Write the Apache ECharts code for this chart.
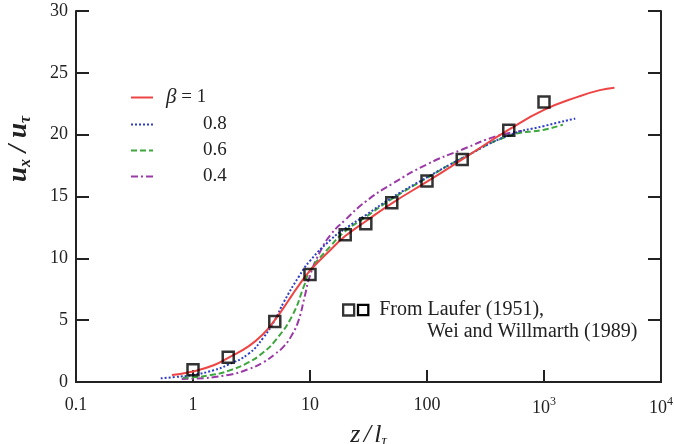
<!DOCTYPE html>
<html>
<head>
<meta charset="utf-8">
<script src="https://cdn.jsdelivr.net/npm/echarts/dist/echarts.min.js"></script>
<style>
    html, body { margin: 0; padding: 0; background: #fff; }
    #chart { width: 674px; height: 444px; }
</style>
</head>
<body>
<div id="chart"></div>
<script>
// 측정값 (Laufer 1951, Wei and Willmarth 1989)
var dataZ = [1, 2, 5, 10, 20, 30, 50, 100, 200, 500, 1000];
var dataU = [1.0, 2.0, 4.9, 8.7, 11.9, 12.8, 14.5, 16.25, 18.0, 20.35, 22.65];

// beta = 1
var b10Z = [0.66, 1, 1.5, 2, 3, 4, 5, 6, 7, 8, 10, 15, 20, 30, 50, 100, 200, 500, 1000, 2000, 3000, 4000];
var b10U = [0.57, 0.85, 1.35, 1.95, 2.9, 3.9, 5.0, 6.05, 7.0, 7.8, 9.0, 10.7, 11.8, 13.0, 14.45, 16.2, 18.0, 20.4, 22.0, 23.1, 23.6, 23.8];

// beta = 0.8
var b08Z = [0.53, 0.7, 1, 1.5, 2, 3, 4, 5, 6, 8, 10, 15, 20, 30, 50, 100, 200, 500, 1000, 1850];
var b08U = [0.3, 0.4, 0.57, 0.95, 1.4, 2.3, 3.6, 5.0, 6.5, 8.5, 9.8, 11.5, 12.4, 13.5, 14.9, 16.55, 18.1, 19.95, 20.7, 21.3];

// beta = 0.6
var b06Z = [0.82, 1, 1.5, 2, 3, 4, 5, 7, 9, 10, 15, 20, 30, 50, 100, 200, 500, 1000, 1450];
var b06U = [0.35, 0.38, 0.6, 0.9, 1.6, 2.4, 3.3, 5.3, 7.9, 9.0, 11.0, 12.2, 13.35, 14.8, 16.5, 18.1, 19.9, 20.4, 20.8];

// beta = 0.4
var b04Z = [0.8, 1, 2, 3, 4, 5, 6, 7, 8, 9, 10, 12, 15, 20, 30, 50, 100, 200, 400, 650];
var b04U = [0.25, 0.27, 0.57, 1.05, 1.6, 2.25, 2.9, 3.8, 5.0, 6.9, 8.6, 10.4, 11.9, 13.1, 14.6, 16.0, 17.6, 18.8, 19.9, 20.3];

// 축 눈금 라벨
var xTickLabels = ['0.1', '1', '10', '100', '10^3', '10^4'];
var yTicks = [0, 5, 10, 15, 20, 25, 30];

var SERIF = 'Liberation Serif';
var INK = '#222';

function pairs(xs, ys) {
    return xs.map(function(x, i) { return [x, ys[i]]; });
}

var chart = echarts.init(document.getElementById('chart'));

var axisLine = { lineStyle: { color: INK, width: 2 } };
var tickStyle = { color: INK, width: 2 };
var NOFILL = 'rgba(255,255,255,0)';

// 곡선 공통 설정
function curve(name, xs, ys, color, dash, z) {
    return {
        name: name,
        type: 'line',
        smooth: 0.5,
        symbol: 'none',
        data: pairs(xs, ys),
        lineStyle: { color: color, width: 2, type: dash },
        itemStyle: { color: NOFILL },
        z: z
    };
}

var option = {
    animation: false,
    grid: { left: 76, right: 13, top: 11, bottom: 62, outerBoundsMode: 'none', containLabel: false },
    xAxis: [{
        type: 'log',
        logBase: 10,
        min: 0.1,
        max: 10000,
        splitLine: { show: false },
        minorTick: { show: false },
        axisLine: axisLine,
        axisTick: { inside: true, length: 12, lineStyle: tickStyle },
        axisLabel: {
            margin: 14,
            showMinLabel: true,
            showMaxLabel: true,
            color: INK,
            fontFamily: SERIF,
            fontSize: 18,
            formatter: function(v) {
                var e = Math.round(Math.log(v) / Math.LN10);
                var s = xTickLabels[e + 1] || '';
                if (s.indexOf('^') > -1) {
                    var p = s.split('^');
                    return p[0] + '{sup|' + p[1] + '}';
                }
                return s;
            },
            rich: {
                sup: { fontFamily: SERIF, fontSize: 12, color: INK, padding: [0, 0, 12, 0] }
            }
        },
        name: '{i|z} {i|/} {i|l}{s|τ}',
        nameLocation: 'middle',
        nameGap: 34,
        nameTextStyle: {
            rich: {
                i: { fontFamily: SERIF, fontStyle: 'italic', fontSize: 26, color: INK },
                s: { fontFamily: SERIF, fontStyle: 'italic', fontSize: 15, color: INK, padding: [13, 0, 0, 0] }
            }
        }
    }, {
        type: 'log',
        logBase: 10,
        min: 0.1,
        max: 10000,
        position: 'top',
        splitLine: { show: false },
        axisLine: axisLine,
        axisTick: { show: false },
        axisLabel: { show: false }
    }],
    yAxis: [{
        type: 'value',
        min: yTicks[0],
        max: yTicks[yTicks.length - 1],
        interval: 5,
        splitLine: { show: false },
        axisLine: { show: true, lineStyle: { color: INK, width: 2 } },
        axisTick: { show: true, inside: true, length: 13, lineStyle: tickStyle },
        axisLabel: { margin: 8, color: INK, fontFamily: SERIF, fontSize: 18 }
    }, {
        type: 'value',
        position: 'right',
        min: yTicks[0],
        max: yTicks[yTicks.length - 1],
        interval: 5,
        splitLine: { show: false },
        axisLine: { show: true, lineStyle: { color: INK, width: 2 } },
        axisTick: { show: true, inside: true, length: 13, lineStyle: tickStyle },
        axisLabel: { show: false }
    }],
    legend: [{
        data: ['β = 1', '0.8', '0.6', '0.4'],
        orient: 'vertical',
        left: 125,
        top: 82,
        itemWidth: 22,
        itemHeight: 14,
        itemGap: 7,
        formatter: function(name) {
            if (name === 'β = 1') return '{bi|β}{t| = 1}';
            return '{n|' + name + '}';
        },
        textStyle: {
            rich: {
                bi: { fontFamily: SERIF, fontStyle: 'italic', fontSize: 21, color: INK, padding: [0, 0, 0, 8] },
                t: { fontFamily: SERIF, fontSize: 19, color: INK },
                n: { fontFamily: SERIF, fontSize: 19, color: INK, padding: [0, 0, 0, 45] }
            }
        }
    }, {
        data: ['data'],
        left: 337,
        top: 295,
        itemWidth: 11,
        itemHeight: 11,
        itemStyle: { color: NOFILL, borderColor: '#000', borderWidth: 2.3 },
        formatter: function() {
            return '{sq|}{t|From Laufer (1951),}';
        },
        textStyle: {
            rich: {
                sq: { width: 8, height: 8, borderColor: '#000', borderWidth: 2.3, backgroundColor: '#fff' },
                t: { fontFamily: SERIF, fontSize: 20, color: INK, padding: [0, 0, 0, 12] }
            }
        }
    }],
    graphic: [{
        type: 'text',
        x: 19,
        y: 149,
        rotation: Math.PI / 2,
        style: {
            text: '{v|u}{s|x}{v| / u}{s|τ}',
            align: 'center',
            verticalAlign: 'middle',
            rich: {
                v: { fontFamily: SERIF, fontStyle: 'italic', fontWeight: 'bold', fontSize: 27, fill: INK },
                s: { fontFamily: SERIF, fontStyle: 'italic', fontWeight: 'bold', fontSize: 16, fill: INK, padding: [13, 0, 0, 0] }
            }
        }
    }, {
        type: 'text',
        left: 427,
        top: 322,
        style: { text: 'Wei and Willmarth (1989)', fontFamily: SERIF, fontSize: 20, fill: INK }
    }],
    series: [
        curve('β = 1', b10Z, b10U, '#ee4444', 'solid', 5),
        curve('0.8', b08Z, b08U, '#2f3fc4', [2, 2], 4),
        curve('0.6', b06Z, b06U, '#3da63d', [6, 3], 3),
        curve('0.4', b04Z, b04U, '#9a3aa6', [7, 3, 2, 3], 2),
        {
            name: 'data',
            type: 'scatter',
            symbol: 'rect',
            symbolSize: 11,
            data: pairs(dataZ, dataU),
            itemStyle: { color: NOFILL, borderColor: '#000', borderWidth: 2.5 },
            z: 6
        }
    ]
};

chart.setOption(option);
</script>
</body>
</html>
